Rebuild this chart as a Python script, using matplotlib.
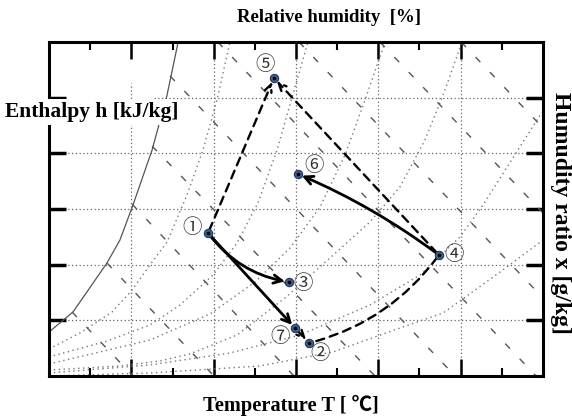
import matplotlib.pyplot as plt
import numpy as np

# axis ranges (temperature / humidity ratio, no tick labels shown)
t_min, t_max = 0.0, 30.0
x_min, x_max = 0.0, 30.0
grid_t = [5, 10, 15, 20, 25]
grid_x = [5, 10, 15, 20, 25]

# saturation curve
sat_t = [0.0, 1.46, 3.52, 4.31, 5.10, 6.26, 7.17, 7.83]
sat_x = [3.95, 5.75, 10.15, 12.22, 15.36, 20.30, 25.24, 29.91]

# relative humidity curves
rh_a_t = [0.0, 1.88, 3.83, 5.04, 6.13, 7.17, 8.38, 9.35, 10.20, 10.99]
rh_a_x = [2.43, 3.86, 5.75, 7.72, 9.97, 12.04, 16.26, 20.30, 24.79, 30.0]
rh_b_t = [0.0, 3.52, 6.13, 7.96, 9.96, 11.42, 12.69, 13.85, 15.06, 15.73]
rh_b_x = [1.71, 3.14, 4.58, 6.38, 9.07, 11.95, 15.54, 20.30, 26.59, 30.0]
rh_c_t = [0.0, 6.13, 9.78, 12.51, 14.64, 16.46, 17.98, 19.19, 20.41]
rh_c_x = [1.08, 3.23, 5.57, 8.44, 11.50, 15.18, 19.85, 24.79, 30.0]
rh_d_t = [0.0, 4.31, 6.74, 8.56, 11.42, 14.33, 17.06, 19.49, 21.31, 22.83, 24.05, 25.08]
rh_d_x = [0.54, 0.90, 1.35, 1.98, 3.68, 7.01, 10.60, 13.83, 16.98, 21.20, 25.69, 30.0]
rh_e_t = [0.0, 6.13, 10.99, 15.24, 19.49, 22.53, 24.96, 26.36, 29.94]
rh_e_x = [0.27, 0.99, 2.07, 3.68, 6.38, 9.07, 12.49, 15.36, 23.71]
rh_f_t = [0.0, 6.13, 12.81, 17.25, 21.31, 23.93, 24.96, 27.39, 30.0]
rh_f_x = [0.0, 0.27, 0.90, 2.16, 4.31, 5.66, 6.74, 9.34, 12.21]
rh_curves = [(rh_a_t, rh_a_x), (rh_b_t, rh_b_x), (rh_c_t, rh_c_x),
             (rh_d_t, rh_d_x), (rh_e_t, rh_e_x), (rh_f_t, rh_f_x)]

# constant enthalpy lines: start and end points
h_t0 = [1.40, 3.52, 5.04, 6.26, 7.35, 10.25, 15.18, 20.10, 25.03]
h_x0 = [5.75, 10.15, 15.45, 20.65, 26.95, 30.00, 30.00, 30.00, 30.00]
h_t1 = [5.10, 10.02, 14.88, 19.80, 24.66, 29.58, 30.00, 30.00, 30.00]
h_x1 = [0.00, 0.00, 0.00, 0.00, 0.00, 0.00, 7.01, 14.64, 22.28]

# process states
pt_label = ['①', '②', '③', '④', '⑤', '⑥', '⑦']
pt_t = [9.66, 15.79, 14.57, 23.68, 13.66, 15.12, 14.94]
pt_x = [12.84, 2.96, 8.44, 10.87, 26.77, 18.14, 4.31]
lab_dt = [-0.97, 0.67, 0.85, 0.91, -0.55, 0.97, -0.91]
lab_dx = [0.54, -0.90, -0.09, 0.00, 1.17, 0.81, -0.72]

plt.rcParams['font.family'] = ['Liberation Serif', 'Noto Sans CJK JP']

fig = plt.figure(figsize=(5.72, 4.17), dpi=100)
ax = fig.add_axes([49 / 572, 1 - 376 / 417, 494 / 572, 334 / 417])
ax.set_xlim(t_min, t_max)
ax.set_ylim(x_min, x_max)

grid_kw = dict(color='#666666', lw=0.9, ls=(0, (1, 2)), zorder=1)
for g in grid_t:
    top = 26.3 if g == 5 else x_max
    ax.plot([g, g], [x_min, top], **grid_kw)
for g in grid_x:
    left = 6.4 if g == 25 else t_min
    ax.plot([left, t_max], [g, g], **grid_kw)

ax.plot(sat_t, sat_x, color='#555555', lw=0.9, zorder=2)
for ct, cx in rh_curves:
    ax.plot(ct, cx, color='#777777', lw=1.0, ls=(0, (1, 2.5)), zorder=2, clip_on=True)
for a, b, c, d in zip(h_t0, h_x0, h_t1, h_x1):
    ax.plot([a, c], [b, d], color='#555555', lw=1.0, ls=(0, (5, 10)), zorder=2)

# process lines
P = {lab: (t, x) for lab, t, x in zip(pt_label, pt_t, pt_x)}
solid = dict(arrowstyle='->,head_length=0.6,head_width=0.3', color='black', lw=2.0,
             shrinkA=2, shrinkB=3)
dashed = dict(arrowstyle='->,head_length=0.55,head_width=0.25', color='black', lw=1.7,
              ls=(0, (3.5, 2.5)), shrinkA=2, shrinkB=3)
plain_dash = dict(arrowstyle='-', color='black', lw=1.7, ls=(0, (3.5, 2.5)),
                  shrinkA=2, shrinkB=5)

def link(a, b, props, rad=0.0):
    ax.annotate('', xy=P[b], xytext=P[a], zorder=4,
                arrowprops=dict(connectionstyle=f'arc3,rad={rad}', **props))

link('①', '③', solid, rad=0.2)
link('①', '⑦', solid)
link('④', '⑥', solid, rad=0.06)
link('①', '⑤', dashed)
link('④', '⑤', dashed)
link('④', '②', plain_dash, rad=-0.18)
link('⑦', '②', dashed)

ax.plot(pt_t, pt_x, 'o', ms=6, mfc='#3b5f8f', mec='#223a5e', mew=0.8, zorder=5)
ax.plot(pt_t, pt_x, 'o', ms=1.6, color='black', zorder=6)
for lab, t, x, dt, dx in zip(pt_label, pt_t, pt_x, lab_dt, lab_dx):
    ax.text(t + dt, x + dx, lab, fontsize=14, color='#333333', ha='center', va='center',
            family=['Noto Sans CJK JP', 'DejaVu Sans'], zorder=6)

ax.set_xticks(grid_t)
ax.set_xticks(np.arange(2.5, 30, 5), minor=True)
ax.set_yticks(grid_x)
ax.set_yticks([], minor=True)
ax.tick_params(which='both', direction='in', top=True, right=True,
               labelbottom=False, labelleft=False, color='black')
ax.tick_params(axis='x', which='major', length=12, width=1.8)
ax.tick_params(axis='x', which='minor', length=6, width=1.5)
ax.tick_params(axis='y', which='major', length=12, width=2.5)
for s in ax.spines.values():
    s.set_linewidth(2.2)

bold = dict(fontweight='bold', color='black')
fig.text(329 / 572, 1 - 18 / 417, 'Relative humidity  [%]', ha='center', va='center',
         fontsize=13.5, **bold)
fig.text(5 / 572, 1 - 112 / 417, 'Enthalpy h [kJ/kg]', ha='left', va='center', zorder=10,
         fontsize=15.5, bbox=dict(facecolor='white', edgecolor='none', pad=2), **bold)
fig.text(291 / 572, 1 - 405 / 417, 'Temperature T [ ℃]', ha='center', va='center',
         fontsize=14.7, **bold)
fig.text(561 / 572, 1 - 213 / 417, 'Humudity ratio x [g/kg]', ha='center', va='center',
         rotation=-90, fontsize=17, **bold)

fig.savefig('out.png', dpi=100)
